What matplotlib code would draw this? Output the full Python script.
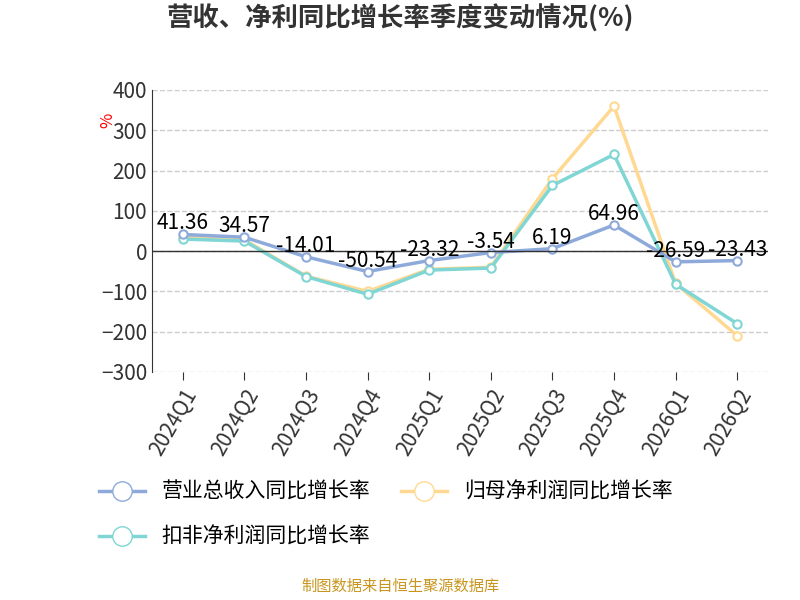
import matplotlib.pyplot as plt
from matplotlib.lines import Line2D

plt.rcParams['font.family'] = ['Noto Sans CJK SC', 'DejaVu Sans']

quarters = ['2024Q1', '2024Q2', '2024Q3', '2024Q4', '2025Q1', '2025Q2',
            '2025Q3', '2025Q4', '2026Q1', '2026Q2']
revenue = [41.36, 34.57, -14.01, -50.54, -23.32, -3.54, 6.19, 64.96, -26.59, -23.43]
net_profit = [35, 28, -62, -100, -45, -40, 180, 360, -80, -210]
deducted = [30, 25, -63, -107, -47, -42, 163, 240, -82, -180]
labels = ['41.36', '34.57', '-14.01', '-50.54', '-23.32', '-3.54', '6.19', '64.96', '-26.59', '-23.43']

c_rev = '#8eaadb'
c_net = '#ffd992'
c_ded = '#7fd6d4'

fig = plt.figure(figsize=(8, 6), dpi=100)
ax = fig.add_axes([0.19, 0.38, 0.77, 0.47])
x = range(len(quarters))
for y, c in [(net_profit, c_net), (deducted, c_ded), (revenue, c_rev)]:
    ax.plot(x, y, color=c, lw=2.5, marker='o', markersize=6,
            markerfacecolor='white', markeredgecolor=c, markeredgewidth=1.5)
for i, t in enumerate(labels):
    ax.text(i, revenue[i], t, ha='center', va='bottom', fontsize=15, color='black')

ax.set_ylim(-300, 400)
ax.set_yticks(range(-300, 401, 100))
ax.set_xlim(-0.5, 9.5)
ax.set_xticks(list(x))
ax.set_xticklabels(quarters, rotation=60, ha='right', rotation_mode='anchor', fontsize=15)
ax.tick_params(axis='y', labelsize=15, length=0, colors='#333333')
ax.tick_params(axis='x', colors='#333333', length=6)
ax.grid(axis='y', ls='--', color='#cccccc', lw=1)
for s in ['top', 'right', 'bottom']:
    ax.spines[s].set_visible(False)
ax.spines['left'].set_color('#333333')
ax.axhline(0, color='#333333', lw=1)
ax.text(-0.085, 0.88, '%', transform=ax.transAxes, color='red', fontsize=12, rotation=90)

fig.text(0.5, 0.955, '营收、净利同比增长率季度变动情况(%)', ha='center', fontsize=19,
         fontweight='bold', color='#333333')

handles = [Line2D([], [], color=c, lw=2.5, marker='o', markersize=14,
                  markerfacecolor='white', markeredgecolor=c) for c in (c_rev, c_net, c_ded)]
names = ['营业总收入同比增长率', '归母净利润同比增长率', '扣非净利润同比增长率']
fig.legend(handles[:2], names[:2], loc='center left', bbox_to_anchor=(0.1, 0.18),
           ncol=2, frameon=False, fontsize=15, handlelength=2.2, columnspacing=1.5)
fig.legend(handles[2:], names[2:], loc='center left', bbox_to_anchor=(0.1, 0.105),
           frameon=False, fontsize=15, handlelength=2.2)

fig.text(0.5, 0.015, '制图数据来自恒生聚源数据库', ha='center', fontsize=11, color='#c8961e')
fig.savefig('out.png')
